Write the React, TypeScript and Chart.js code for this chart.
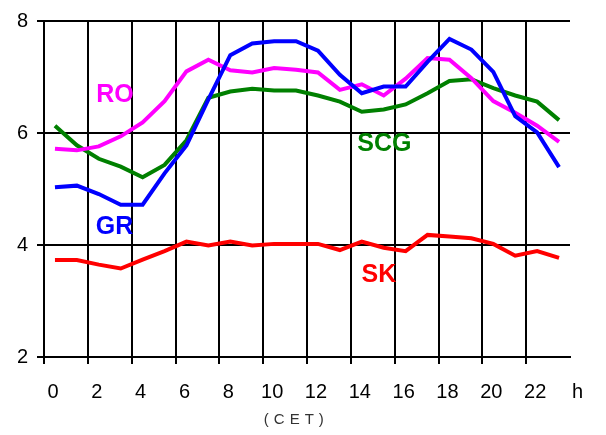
import React, { useEffect, useRef } from "react";
import { Chart, registerables } from "chart.js";

Chart.register(...registerables);

const hours = Array.from({ length: 24 }, (_, i) => String(i));
const RO = [5.72, 5.69, 5.76, 5.94, 6.19, 6.57, 7.1, 7.31, 7.12, 7.08, 7.16, 7.13, 7.08, 6.77, 6.87, 6.67, 6.97, 7.34, 7.31, 6.98, 6.57, 6.36, 6.13, 5.84];
const GR = [5.03, 5.06, 4.91, 4.72, 4.72, 5.28, 5.78, 6.6, 7.39, 7.6, 7.64, 7.64, 7.47, 7.04, 6.71, 6.83, 6.83, 7.27, 7.68, 7.49, 7.09, 6.3, 6.01, 5.39];
const SCG = [6.13, 5.78, 5.54, 5.4, 5.21, 5.43, 5.87, 6.63, 6.74, 6.79, 6.76, 6.76, 6.67, 6.56, 6.38, 6.42, 6.51, 6.71, 6.93, 6.96, 6.8, 6.67, 6.56, 6.23];
const SK = [3.73, 3.73, 3.65, 3.58, 3.74, 3.89, 4.06, 3.99, 4.06, 3.99, 4.02, 4.02, 4.02, 3.91, 4.06, 3.95, 3.89, 4.18, 4.15, 4.12, 4.02, 3.81, 3.89, 3.77];

const seriesNames = ["GR", "RO", "SCG", "SK"];
const seriesColors = ["#0000FF", "#FF00FF", "#008000", "#FF0000"];
// label anchor positions in data units (hour index, value)
const labelHour = [2.72, 2.74, 15.03, 14.78];
const labelValue = [4.32, 6.68, 5.81, 3.47];

const FONT = "'Liberation Sans', Arial, sans-serif";

const extraText = {
  id: "extraText",
  afterDraw(chart: any) {
    const ctx = chart.ctx;
    const x = chart.scales.x;
    const y = chart.scales.y;
    ctx.save();
    ctx.textAlign = "center";
    ctx.textBaseline = "middle";
    ctx.font = `bold 25px ${FONT}`;
    seriesNames.forEach((n, i) => {
      ctx.fillStyle = seriesColors[i];
      ctx.fillText(n, x.getPixelForValue(labelHour[i]), y.getPixelForValue(labelValue[i]));
    });
    ctx.fillStyle = "#000";
    ctx.font = `20px ${FONT}`;
    ctx.fillText("h", x.right + 7.5, x.top + 35);
    ctx.font = `15px ${FONT}`;
    ctx.fillStyle = "#333";
    (ctx as any).letterSpacing = "5px";
    ctx.fillText("(CET)", x.getPixelForValue(10.9) + 2.5, x.top + 63);
    ctx.restore();
  },
};

export default function App() {
  const ref = useRef<HTMLCanvasElement>(null);
  useEffect(() => {
    const chart = new Chart(ref.current!, {
      type: "line",
      data: {
        labels: hours,
        datasets: [
          { label: "GR", data: GR, borderColor: seriesColors[0], order: 0 },
          { label: "RO", data: RO, borderColor: seriesColors[1], order: 1 },
          { label: "SCG", data: SCG, borderColor: seriesColors[2], order: 2 },
          { label: "SK", data: SK, borderColor: seriesColors[3], order: 3 },
        ].map((d) => ({ ...d, borderWidth: 4, pointRadius: 0, tension: 0, fill: false })),
      },
      options: {
        animation: false,
        responsive: false,
        maintainAspectRatio: false,
        layout: { padding: { top: 15, right: 36, left: 0, bottom: 0 } },
        plugins: { legend: { display: false }, tooltip: { enabled: false } },
        scales: {
          x: {
            type: "category",
            offset: true,
            grid: {
              offset: true,
              color: (c: any) => (c.index % 2 === 0 ? "#000" : "rgba(0,0,0,0)"),
              lineWidth: 2,
              tickLength: 7,
            },
            border: { display: true, color: "#000", width: 2 },
            ticks: {
              autoSkip: false,
              maxRotation: 0,
              padding: 16,
              labelOffset: -2,
              color: "#000",
              font: { family: FONT, size: 20 },
              callback: (_v: any, i: number) => (i % 2 === 0 ? hours[i] : ""),
            },
            afterFit: (s: any) => {
              s.height = 78;
            },
          },
          y: {
            min: 2,
            max: 8,
            grid: { color: "#000", lineWidth: 2, tickLength: 7 },
            border: { display: true, color: "#000", width: 2 },
            ticks: {
              stepSize: 2,
              padding: 9,
              color: "#000",
              font: { family: FONT, size: 20 },
            },
            afterFit: (s: any) => {
              s.width = 44;
            },
          },
        },
      },
      plugins: [extraText],
    });
    return () => chart.destroy();
  }, []);
  return (
    <div style={{ position: "fixed", left: 0, top: 0, width: 606, height: 435, background: "#fff" }}>
      <canvas ref={ref} width={606} height={435} style={{ display: "block" }} />
    </div>
  );
}
